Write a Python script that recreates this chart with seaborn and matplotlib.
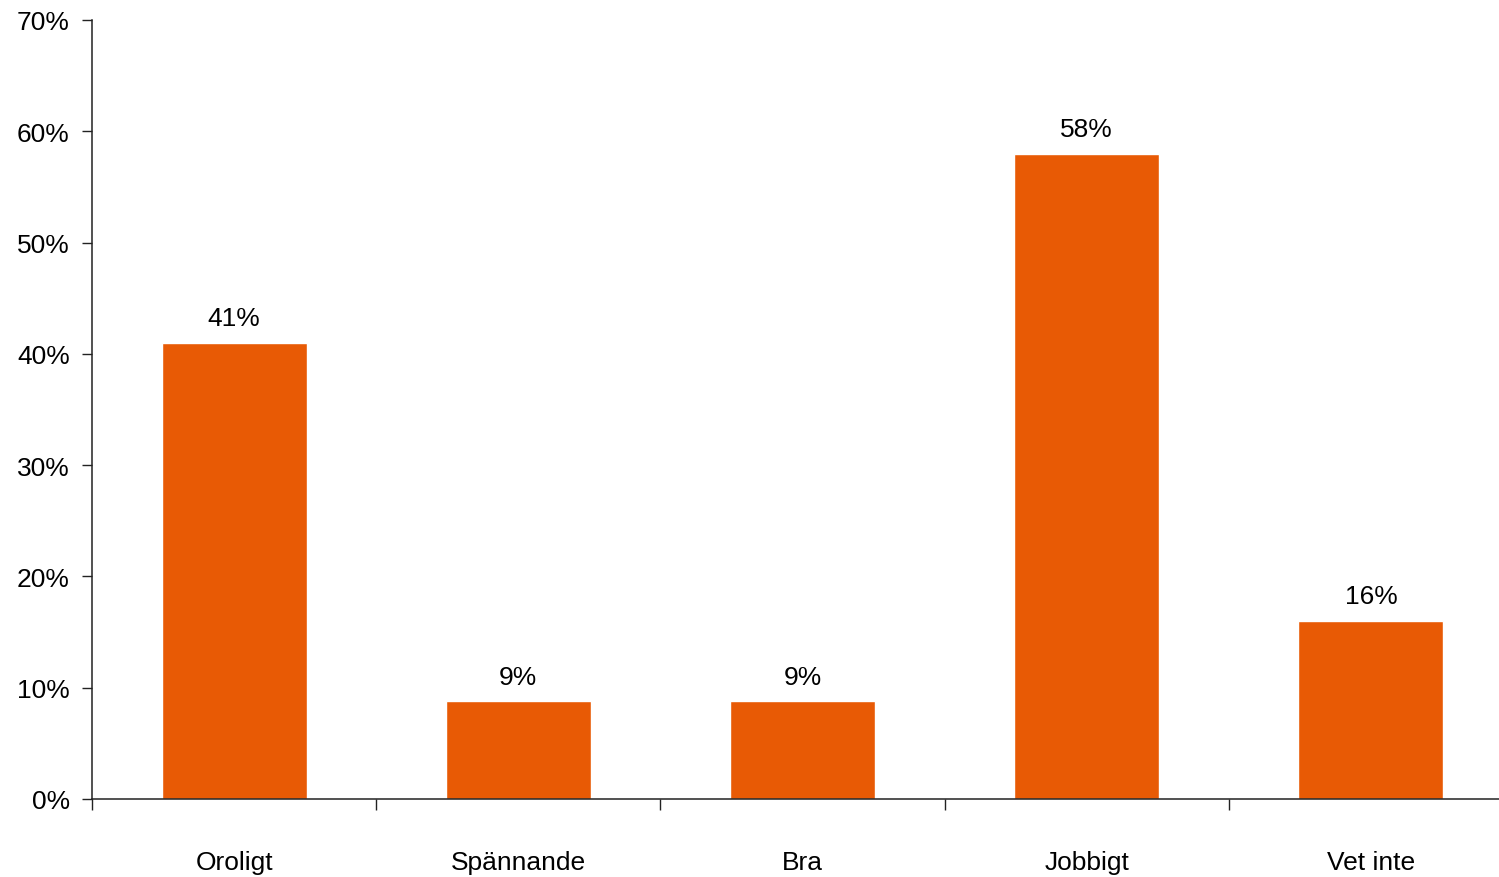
import numpy as np
import pandas as pd
import matplotlib
matplotlib.use("Agg")
import matplotlib.pyplot as plt
from matplotlib.ticker import FixedLocator, PercentFormatter
import seaborn as sns

# Data
categories = ["Oroligt", "Spännande", "Bra", "Jobbigt", "Vet inte"]
values = [41, 8.8, 8.8, 58, 16]
labels = ["41%", "9%", "9%", "58%", "16%"]

df = pd.DataFrame({"category": categories, "share": values})

sns.set_style("ticks")
plt.rcParams["font.family"] = ["Liberation Sans", "DejaVu Sans"]
plt.rcParams["text.color"] = "black"
plt.rcParams["xtick.color"] = "black"
plt.rcParams["ytick.color"] = "black"

fig = plt.figure(figsize=(14.99, 8.78), dpi=100)
ax = fig.add_axes([92 / 1499, 78 / 878, 1421 / 1499, 779 / 878])

sns.barplot(data=df, x="category", y="share", color="#E85A05",
            saturation=1, width=0.51, ax=ax)
ax.bar_label(ax.containers[0], labels=labels, padding=9, fontsize=19, color="black")

ax.set_xlim(-0.5, len(categories) - 0.5)
ax.set_ylim(0, 70)
ax.set_yticks(np.arange(0, 71, 10))
ax.yaxis.set_major_formatter(PercentFormatter(decimals=0))
ax.set_xlabel("")
ax.set_ylabel("")

# category ticks sit between the bars, labels under the bars
ax.xaxis.set_major_locator(FixedLocator(np.arange(-0.5, len(categories), 1)))
ax.xaxis.set_minor_locator(FixedLocator(np.arange(len(categories))))
ax.set_xticklabels([])
ax.set_xticklabels(categories, minor=True)
ax.tick_params(axis="x", which="major", length=8, width=1, color="#222222")
ax.tick_params(axis="x", which="minor", length=0, pad=37, labelsize=19)
ax.tick_params(axis="y", length=7, width=1, color="#222222", pad=9, labelsize=19)

for side in ["top", "right"]:
    ax.spines[side].set_visible(False)
for side in ["left", "bottom"]:
    ax.spines[side].set_color("#222222")
    ax.spines[side].set_linewidth(1.1)

fig.savefig("out.png", dpi=100)
